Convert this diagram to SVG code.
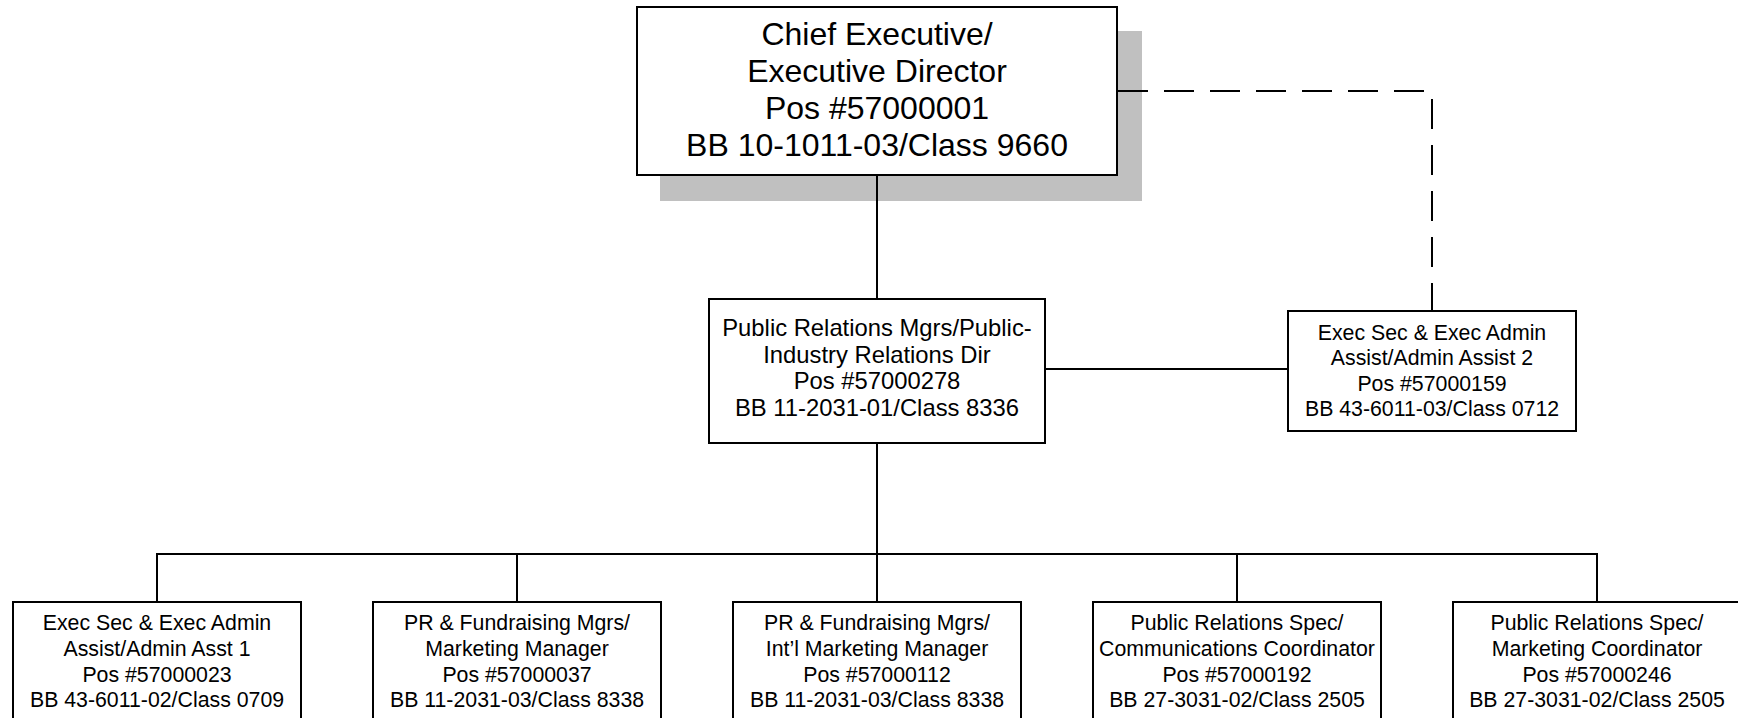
<svg xmlns="http://www.w3.org/2000/svg" width="1738" height="718" viewBox="0 0 1738 718">
<style>
.box{fill:#ffffff;stroke:#000000;stroke-width:2}
.shadow{fill:#c0c0c0;stroke:none}
.ln{fill:none;stroke:#000000;stroke-width:2}
.dash{fill:none;stroke:#000000;stroke-width:2;stroke-dasharray:30,16}
text{font-family:"Liberation Sans",Arial,sans-serif;fill:#000000;text-anchor:middle}
.t32{font-size:32px}
.t24{font-size:23.8px}
.t21{font-size:21.3px}
</style>
<rect width="1738" height="718" fill="#ffffff"/>
<g id="chief">
<rect class="shadow" x="660" y="31" width="482" height="170"/>
<rect class="box" x="637" y="7" width="480" height="168"/>
<text class="t32" x="877" y="45">Chief Executive/</text>
<text class="t32" x="877" y="82">Executive Director</text>
<text class="t32" x="877" y="119">Pos #57000001</text>
<text class="t32" x="877" y="156">BB 10-1011-03/Class 9660</text>
</g>
<g id="pr-director">
<rect class="box" x="709" y="299" width="336" height="144"/>
<text class="t24" x="877" y="336">Public Relations Mgrs/Public-</text>
<text class="t24" x="877" y="363">Industry Relations Dir</text>
<text class="t24" x="877" y="389">Pos #57000278</text>
<text class="t24" x="877" y="416">BB 11-2031-01/Class 8336</text>
</g>
<g id="admin2">
<rect class="box" x="1288" y="311" width="288" height="120"/>
<text class="t21" x="1432" y="340">Exec Sec &amp; Exec Admin</text>
<text class="t21" x="1432" y="365">Assist/Admin Assist 2</text>
<text class="t21" x="1432" y="391">Pos #57000159</text>
<text class="t21" x="1432" y="416">BB 43-6011-03/Class 0712</text>
</g>
<g id="admin1">
<rect class="box" x="13" y="602" width="288" height="130"/>
<text class="t21" x="157" y="630">Exec Sec &amp; Exec Admin</text>
<text class="t21" x="157" y="656">Assist/Admin Asst 1</text>
<text class="t21" x="157" y="682">Pos #57000023</text>
<text class="t21" x="157" y="707">BB 43-6011-02/Class 0709</text>
</g>
<g id="marketing-mgr">
<rect class="box" x="373" y="602" width="288" height="130"/>
<text class="t21" x="517" y="630">PR &amp; Fundraising Mgrs/</text>
<text class="t21" x="517" y="656">Marketing Manager</text>
<text class="t21" x="517" y="682">Pos #57000037</text>
<text class="t21" x="517" y="707">BB 11-2031-03/Class 8338</text>
</g>
<g id="intl-marketing-mgr">
<rect class="box" x="733" y="602" width="288" height="130"/>
<text class="t21" x="877" y="630">PR &amp; Fundraising Mgrs/</text>
<text class="t21" x="877" y="656">Int’l Marketing Manager</text>
<text class="t21" x="877" y="682">Pos #57000112</text>
<text class="t21" x="877" y="707">BB 11-2031-03/Class 8338</text>
</g>
<g id="comm-coordinator">
<rect class="box" x="1093" y="602" width="288" height="130"/>
<text class="t21" x="1237" y="630">Public Relations Spec/</text>
<text class="t21" x="1237" y="656">Communications Coordinator</text>
<text class="t21" x="1237" y="682">Pos #57000192</text>
<text class="t21" x="1237" y="707">BB 27-3031-02/Class 2505</text>
</g>
<g id="marketing-coordinator">
<rect class="box" x="1453" y="602" width="288" height="130"/>
<text class="t21" x="1597" y="630">Public Relations Spec/</text>
<text class="t21" x="1597" y="656">Marketing Coordinator</text>
<text class="t21" x="1597" y="682">Pos #57000246</text>
<text class="t21" x="1597" y="707">BB 27-3031-02/Class 2505</text>
</g>
<g id="connectors">
<line class="ln" x1="877" y1="176" x2="877" y2="298"/>
<line class="ln" x1="877" y1="444" x2="877" y2="554"/>
<line class="ln" x1="1046" y1="369" x2="1287" y2="369"/>
<polyline class="ln" points="157,601 157,554 1597,554 1597,601"/>
<line class="ln" x1="517" y1="554" x2="517" y2="601"/>
<line class="ln" x1="1237" y1="554" x2="1237" y2="601"/>
<line class="ln" x1="877" y1="554" x2="877" y2="601"/>
<polyline class="dash" points="1118,91 1432,91 1432,310"/>
</g>
</svg>
